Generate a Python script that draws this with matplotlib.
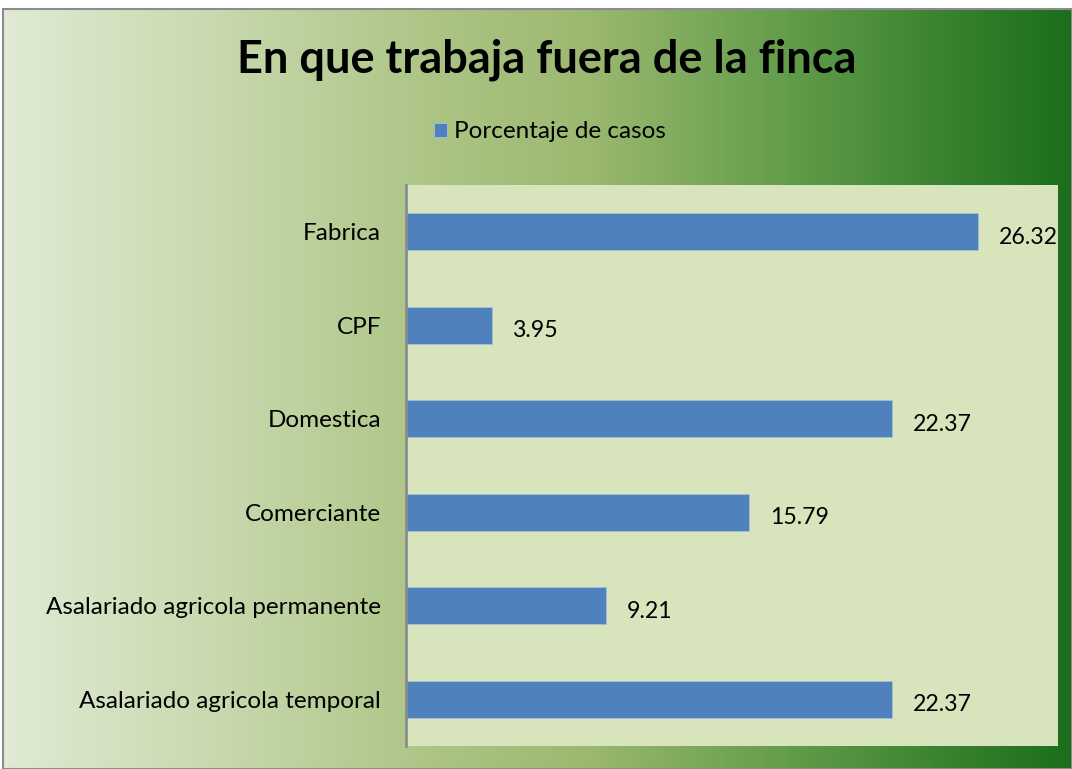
import numpy as np
import matplotlib.pyplot as plt
from matplotlib.colors import LinearSegmentedColormap
from matplotlib.patches import Rectangle

categories = ['Asalariado agricola temporal', 'Asalariado agricola permanente',
              'Comerciante', 'Domestica', 'CPF', 'Fabrica']
values = [22.37, 9.21, 15.79, 22.37, 3.95, 26.32]
series_name = 'Porcentaje de casos'
title = 'En que trabaja fuera de la finca'

plt.rcParams['font.family'] = ['Lato', 'DejaVu Sans']

W, H = 1072, 769
fig = plt.figure(figsize=(W / 100, H / 100), dpi=100)
fig.patch.set_facecolor('white')

# background gradient of the chart area
bg = fig.add_axes([3 / W, 0, 1 - 3 / W, 1 - 9 / H])
grad = LinearSegmentedColormap.from_list('g', [
    (0.0, '#e0ead4'), (0.2, '#c8d9ae'), (0.4, '#acc585'),
    (0.55, '#9bb870'), (0.75, '#5e9a48'), (0.9, '#357f2c'), (1.0, '#1c6e1c')])
bg.imshow(np.linspace(0, 1, 256).reshape(1, -1), cmap=grad, aspect='auto',
          extent=[0, 1, 0, 1])
bg.set_xlim(0, 1)
bg.set_ylim(0, 1)
bg.axis('off')
fig.add_artist(Rectangle((3 / W, 0), 1 - 3 / W, 1 - 9 / H, transform=fig.transFigure,
                         fill=False, edgecolor='#8c8c8c', linewidth=1.5))

# plot area
x0, x1, y0, y1 = 406, 1058, 185, 746
ax = fig.add_axes([x0 / W, 1 - y1 / H, (x1 - x0) / W, (y1 - y0) / H])
ax.set_facecolor('#d8e4bc')
y = np.arange(len(categories))
ax.barh(y, values, height=0.4, color='#4f81bd', edgecolor='#a6bfdc', linewidth=0.6,
        label=series_name)
for yi, v in zip(y, values):
    ax.text(v + 0.95, yi - 0.06, f'{v:.2f}', va='center', ha='left', fontsize=16.7,
            clip_on=False)
ax.set_xlim(0, 30)
ax.set_ylim(-0.5, len(categories) - 0.5)
ax.set_yticks(y)
ax.set_yticklabels(categories, fontsize=17.5)
ax.tick_params(axis='y', length=0, pad=18)
ax.set_xticks([])
for s in ['top', 'right', 'bottom']:
    ax.spines[s].set_visible(False)
ax.spines['left'].set_color('#8c8c8c')
ax.spines['left'].set_linewidth(2)

fig.text(0.51, 1 - 60 / H, title, ha='center', va='center', fontsize=32.5,
         fontweight='bold')
fig.legend(loc='center', bbox_to_anchor=(0.513, 1 - 132 / H), frameon=False,
           fontsize=17.5, handlelength=0.55, handleheight=0.55, handletextpad=0.3)

fig.savefig('out.png', dpi=100)
